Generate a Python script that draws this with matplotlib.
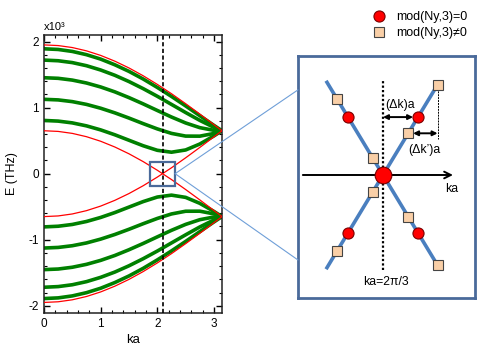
import numpy as np
import matplotlib
matplotlib.use("Agg")
import matplotlib.pyplot as plt
from matplotlib.lines import Line2D
from matplotlib.patches import Rectangle, ConnectionPatch
from matplotlib.ticker import MultipleLocator

plt.rcParams['font.family'] = ['Liberation Sans', 'DejaVu Sans']
plt.rcParams['axes.unicode_minus'] = False

# band energies (units of 10^3 THz), upper half only;
# the spectrum is symmetric so the lower half is the mirror image
ka = [0, 0.25, 0.5, 0.75, 1.0, 1.25, 1.5, 1.75, 2.0, 2.25, 2.5, 2.75, 3.0, 3.1416]
red_outer = [1.950, 1.940, 1.910, 1.860, 1.791, 1.704, 1.601, 1.483, 1.352, 1.211, 1.060, 0.903, 0.742, 0.650]
red_inner = [0.650, 0.640, 0.610, 0.560, 0.491, 0.404, 0.301, 0.183, 0.052, -0.089, -0.240, -0.397, -0.558, -0.650]
green_bands = [
    [1.891, 1.881, 1.851, 1.802, 1.735, 1.649, 1.549, 1.434, 1.306, 1.170, 1.026, 0.878, 0.731, 0.650],
    [1.720, 1.710, 1.682, 1.635, 1.570, 1.490, 1.395, 1.288, 1.172, 1.049, 0.926, 0.807, 0.701, 0.650],
    [1.453, 1.444, 1.417, 1.373, 1.313, 1.239, 1.152, 1.057, 0.957, 0.858, 0.768, 0.697, 0.656, 0.650],
    [1.126, 1.117, 1.091, 1.049, 0.991, 0.921, 0.842, 0.758, 0.678, 0.610, 0.569, 0.568, 0.609, 0.650],
    [0.806, 0.796, 0.769, 0.724, 0.663, 0.589, 0.506, 0.423, 0.354, 0.325, 0.359, 0.449, 0.572, 0.650],
]
ka_dirac = 2 * np.pi / 3

# inset schematic: k measured from the Dirac point in units of (dk)a
circle_k = [-1.0, 0.0, 1.0]
square_k = [-1.31, -0.29, 0.72, 1.56]
line_k = [-1.6, 1.57]

fig = plt.figure(figsize=(4.91, 3.5), dpi=100)
ax = fig.add_axes([0.0896, 0.1057, 0.3625, 0.7943])

for band in green_bands:
    ax.plot(ka, band, color='#008000', lw=2.6, zorder=2)
    ax.plot(ka, [-e for e in band], color='#008000', lw=2.6, zorder=2)
for band in (red_outer, red_inner):
    ax.plot(ka, band, color='#ff0000', lw=0.9, zorder=3)
    ax.plot(ka, [-e for e in band], color='#ff0000', lw=0.9, zorder=3)

ax.axvline(ka_dirac, color='black', ls=(0, (2.5, 1.5)), lw=1.2, zorder=4)
ax.add_patch(Rectangle((ka_dirac - 0.22, -0.18), 0.44, 0.36, fill=False,
                       edgecolor='#4a6a9a', lw=1.6, zorder=5))

ax.set_xlim(0, np.pi)
ax.set_ylim(-2.11, 2.1)
ax.xaxis.set_major_locator(MultipleLocator(1))
ax.yaxis.set_major_locator(MultipleLocator(1))
ax.xaxis.set_minor_locator(MultipleLocator(0.2))
ax.yaxis.set_minor_locator(MultipleLocator(0.2))
ax.tick_params(which='both', direction='in', top=True, right=True, labelsize=8.5)
ax.tick_params(which='major', length=4, width=1)
ax.tick_params(which='minor', length=2, width=0.8)
for s in ax.spines.values():
    s.set_linewidth(1.1)
    s.set_color('#222222')
ax.set_xlabel('ka', fontsize=9.5, labelpad=3)
ax.set_ylabel('E (THz)', fontsize=9, labelpad=8)
ax.text(0, 1.012, 'x10³', transform=ax.transAxes, fontsize=8, va='bottom', ha='left')

# inset
ins = fig.add_axes([0.6069, 0.1486, 0.3605, 0.6914])
ins.set_xlim(-2.429, 2.629)
ins.set_ylim(-2.124, 2.055)
ins.set_xticks([])
ins.set_yticks([])
for s in ins.spines.values():
    s.set_color('#4a6a9a')
    s.set_linewidth(2)

ins.plot(line_k, line_k, color='#4a7fbf', lw=2.6, zorder=2)
ins.plot(line_k, [-k for k in line_k], color='#4a7fbf', lw=2.6, zorder=2)
ins.plot([0, 0], [-1.64, 1.64], color='black', ls=(0, (1, 1)), lw=1.6, zorder=1)
ins.annotate('', xy=(2.0, 0), xytext=(-2.29, 0),
             arrowprops=dict(arrowstyle='->', lw=1.4, color='black', shrinkA=0, shrinkB=0,
                             mutation_scale=12), zorder=1)

outer = [k for k in circle_k if k != 0]
for sgn in (1, -1):
    ins.plot(outer, [sgn * k for k in outer], 'o', ms=8, mfc='#ff0000', mec='#7a0000',
             mew=0.8, zorder=4)
    ins.plot(square_k, [sgn * k for k in square_k], 's', ms=6.5, mfc='#f9cfa7', mec='#444444',
             mew=0.8, zorder=4)
ins.plot([0], [0], 'o', ms=12, mfc='#ff0000', mec='#7a0000', mew=0.8, zorder=5)

# (dk)a and (dk')a markers
ins.annotate('', xy=(0.86, 1.0), xytext=(0.0, 1.0),
             arrowprops=dict(arrowstyle='<|-|>', lw=1.4, color='black', shrinkA=0, shrinkB=0,
                             mutation_scale=7), zorder=3)
ins.text(0.5, 1.21, '(Δk)a', fontsize=8.8, ha='center', va='center')
ins.plot([square_k[-1], square_k[-1]], [square_k[-1], 0.62], color='black',
         ls=(0, (2, 1)), lw=0.7, zorder=1)
ins.annotate('', xy=(square_k[-1], 0.72), xytext=(0.86, 0.72),
             arrowprops=dict(arrowstyle='<|-|>', lw=1.4, color='black', shrinkA=0, shrinkB=0,
                             mutation_scale=7), zorder=3)
ins.text(1.17, 0.43, '(Δk\u2019)a', fontsize=8.8, ha='center', va='center')
ins.text(1.97, -0.24, 'ka', fontsize=8.8, ha='center', va='center')
ins.text(0.07, -1.85, 'ka=2π/3', fontsize=8.8, ha='center', va='center')

# connectors from the zoom box to the inset
for yb in (0.86, 0.157):
    con = ConnectionPatch(xyA=(ka_dirac + 0.22, 0), coordsA=ax.transData,
                          xyB=(0, yb), coordsB=ins.transAxes,
                          color='#6f9fd8', lw=0.8)
    fig.add_artist(con)

handles = [
    Line2D([], [], ls='', marker='o', ms=8, mfc='#ff0000', mec='#7a0000', mew=0.8),
    Line2D([], [], ls='', marker='s', ms=6.5, mfc='#f9cfa7', mec='#444444', mew=0.8),
]
fig.legend(handles, ['mod(Ny,3)=0', 'mod(Ny,3)\u22600'], loc='upper left',
           bbox_to_anchor=(0.760, 0.968), frameon=False, fontsize=9,
           handlelength=1, handletextpad=0.8, borderpad=0, borderaxespad=0,
           labelspacing=0.3)

fig.savefig('out.png', dpi=100)
